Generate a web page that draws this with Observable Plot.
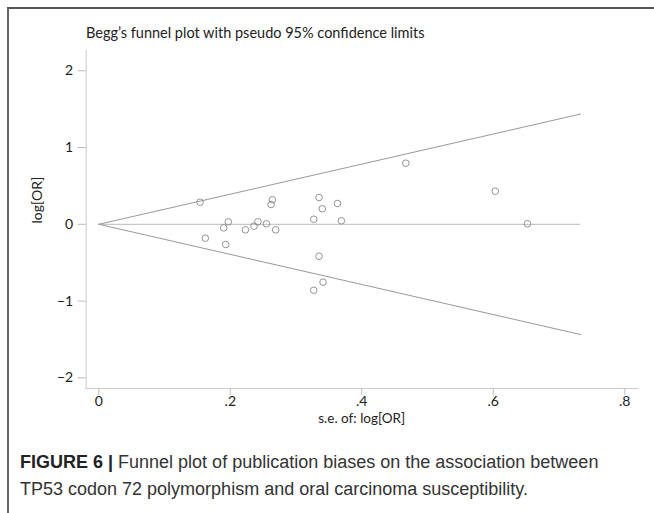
<!DOCTYPE html>
<html>
<head>
<meta charset="utf-8">
<script src="https://cdn.jsdelivr.net/npm/d3@7"></script>
<script src="https://cdn.jsdelivr.net/npm/@observablehq/plot@0.6"></script>
<style>
  html, body { margin: 0; padding: 0; background: #fff; }
  body { width: 654px; height: 513px; position: relative; overflow: hidden; }
  #frame { position: absolute; left: 7px; top: 7px; width: 700px; height: 560px;
           border-left: 2px solid #666; border-top: 2px solid #555; }
  #title { position: absolute; left: 86px; top: 24px; font-family: Lato, sans-serif;
           font-size: 14.5px; color: #222; white-space: nowrap; }
  #chart { position: absolute; left: 0; top: 0; }
  #caption { position: absolute; left: 20px; top: 449px; font-family: "Liberation Sans", Arial, sans-serif;
             font-size: 18px; line-height: 27px; color: #333; white-space: nowrap; }
  #caption b { color: #222; }
</style>
</head>
<body>
<div id="frame"></div>
<div id="title">Begg’s funnel plot with pseudo 95% confidence limits</div>
<div id="chart"></div>
<div id="caption"><b>FIGURE 6 |</b> Funnel plot of publication biases on the association between<br>TP53 codon 72 polymorphism and oral carcinoma susceptibility.</div>
<script>
// Study standard errors and log odds ratios
const se    = [0.154, 0.264, 0.262, 0.197, 0.190, 0.223, 0.236, 0.242, 0.255, 0.269, 0.162, 0.193,
               0.467, 0.335, 0.363, 0.340, 0.327, 0.369, 0.335, 0.341, 0.327, 0.603, 0.652];
const logOR = [0.288, 0.319, 0.258, 0.033, -0.046, -0.072, -0.025, 0.033, 0.007, -0.072, -0.181, -0.263,
               0.796, 0.349, 0.271, 0.202, 0.066, 0.046, -0.416, -0.754, -0.859, 0.431, 0.007];

// Pseudo 95% confidence limits
const pooled = 0;
const zValue = 1.96;
const limitSE = [0, 0.733];

// Axis ticks
const xTicks = [0, 0.2, 0.4, 0.6, 0.8];
const xTickLabels = ["0", ".2", ".4", ".6", ".8"];
const yTicks = [-2, -1, 0, 1, 2];
const yTickLabels = ["−2", "−1", "0", "1", "2"];
const xLabel = "s.e. of: log[OR]";
const yLabel = "log[OR]";

const studies = se.map((s, i) => ({se: s, logOR: logOR[i]}));
const upper = limitSE.map(s => ({se: s, v: pooled + zValue * s}));
const lower = limitSE.map(s => ({se: s, v: pooled - zValue * s}));

const W = 654, H = 436;
const mL = 85.7, mR = 17.3, mT = 50, mB = 48;

const chart = Plot.plot({
  width: W, height: H,
  marginLeft: mL, marginRight: mR, marginTop: mT, marginBottom: mB,
  style: {fontFamily: "Lato, sans-serif", fontSize: "14px", color: "#222", background: "transparent"},
  x: {domain: [-0.01916, 0.8189], axis: null},
  y: {domain: [-2.139, 2.264], axis: null},
  marks: [
    Plot.frame({anchor: "left", stroke: "#ccc"}),
    Plot.frame({anchor: "bottom", stroke: "#ccc"}),
    Plot.axisX({ticks: xTicks, tickFormat: d => xTickLabels[xTicks.indexOf(d)], tickSize: 7, tickPadding: 1,
                stroke: "#bbb", fill: "#222", label: null}),
    Plot.axisY({ticks: yTicks, tickFormat: d => yTickLabels[yTicks.indexOf(d)], tickSize: 8, tickPadding: 5,
                stroke: "#bbb", fill: "#222", label: null}),
    Plot.text([xLabel], {frameAnchor: "bottom", dy: 34, fontSize: 13.5, fill: "#222"}),
    Plot.text([yLabel], {frameAnchor: "left", dx: -49, dy: 4, rotate: -90, fontSize: 14, fill: "#222"}),
    Plot.ruleY([pooled], {x1: limitSE[0], x2: limitSE[1], stroke: "#bbb", strokeWidth: 1}),
    Plot.line(upper, {x: "se", y: "v", stroke: "#999", strokeWidth: 1}),
    Plot.line(lower, {x: "se", y: "v", stroke: "#999", strokeWidth: 1}),
    Plot.dot(studies, {x: "se", y: "logOR", r: 3.3, stroke: "#888", fill: "none", strokeWidth: 0.9})
  ]
});
document.getElementById("chart").appendChild(chart);
</script>
</body>
</html>
